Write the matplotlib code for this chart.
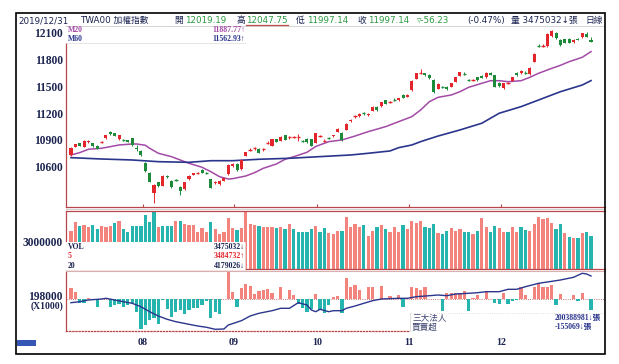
import matplotlib
matplotlib.use("Agg")
import matplotlib.pyplot as plt
from matplotlib.patches import Rectangle
from matplotlib.lines import Line2D

# ====== data (TWA00, 2019-07 .. 2019-12-31) ======
opens = [10731, 10824, 10862, 10824, 10873, 10862, 10832, 10875, 10918, 10985,
         10974, 10907, 10899, 10899, 10918, 10810, 10776, 10645, 10533, 10309,
         10426, 10387, 10500, 10440, 10451, 10376, 10350, 10459, 10510, 10531,
         10563, 10535, 10459, 10418, 10406, 10443, 10515, 10608, 10630, 10573,
         10723, 10784, 10803, 10798, 10792, 10865, 10832, 10907, 10891, 10951,
         10927, 10927, 10930, 10888, 10913, 10907, 10869, 10943, 10888, 10918,
         10940, 10992, 10980, 11011, 11108, 11165, 11167, 11198, 11175, 11227,
         11271, 11279, 11343, 11322, 11350, 11346, 11402, 11383, 11458, 11585,
         11652, 11645, 11629, 11570, 11473, 11490, 11495, 11495, 11548, 11618,
         11645, 11570, 11568, 11600, 11618, 11600, 11650, 11623, 11540, 11477,
         11535, 11562, 11652, 11645, 11650, 11637, 11775, 11952, 11950, 11950,
         12062, 12100, 12018, 12026, 12032, 11995, 12032, 12048, 12080, 12019.19]
highs = [10815, 10858, 10870, 10895, 10900, 10868, 10838, 10892, 10958, 10996,
         10982, 10958, 10906, 10904, 10925, 10843, 10782, 10655, 10540, 10402,
         10432, 10503, 10510, 10447, 10460, 10382, 10432, 10503, 10532, 10545,
         10570, 10542, 10466, 10438, 10449, 10476, 10625, 10638, 10637, 10681,
         10768, 10805, 10825, 10805, 10810, 10885, 10913, 10914, 10942, 10958,
         10945, 10945, 10970, 10900, 10920, 10914, 10980, 10960, 10905, 10930,
         10958, 11028, 10987, 11084, 11130, 11180, 11196, 11215, 11196, 11277,
         11278, 11327, 11350, 11340, 11370, 11371, 11409, 11408, 11568, 11651,
         11690, 11652, 11636, 11577, 11531, 11500, 11502, 11539, 11606, 11662,
         11660, 11585, 11585, 11607, 11625, 11658, 11656, 11630, 11547, 11539,
         11550, 11606, 11659, 11680, 11665, 11714, 11867, 11975, 11968, 12091,
         12128, 12110, 12025, 12033, 12039, 12024, 12039, 12099, 12110, 12047.75]
lows = [10722, 10818, 10830, 10818, 10866, 10825, 10795, 10868, 10912, 10960,
        10938, 10900, 10890, 10874, 10830, 10770, 10725, 10545, 10425, 10196,
        10378, 10380, 10475, 10362, 10440, 10283, 10343, 10452, 10504, 10522,
        10527, 10520, 10358, 10410, 10400, 10437, 10508, 10600, 10556, 10566,
        10716, 10770, 10790, 10750, 10780, 10850, 10826, 10874, 10885, 10893,
        10915, 10918, 10890, 10875, 10870, 10828, 10862, 10935, 10880, 10905,
        10934, 10986, 10892, 11005, 11102, 11150, 11160, 11180, 11170, 11221,
        11228, 11273, 11296, 11310, 11335, 11340, 11366, 11377, 11452, 11579,
        11640, 11617, 11583, 11420, 11467, 11478, 11460, 11489, 11542, 11612,
        11630, 11555, 11560, 11564, 11590, 11594, 11624, 11490, 11497, 11471,
        11525, 11556, 11617, 11639, 11635, 11631, 11769, 11940, 11940, 11944,
        12056, 12030, 11955, 11982, 11982, 11989, 12012, 12042, 12046, 11997.14]
closes = [10806, 10851, 10835, 10888, 10891, 10832, 10801, 10880, 10951, 10966,
          10944, 10951, 10896, 10880, 10843, 10800, 10731, 10552, 10432, 10395,
          10384, 10496, 10481, 10369, 10449, 10331, 10425, 10496, 10526, 10535,
          10533, 10528, 10365, 10432, 10443, 10470, 10619, 10630, 10563, 10675,
          10761, 10787, 10806, 10757, 10795, 10870, 10907, 10880, 10936, 10899,
          10929, 10931, 10935, 10885, 10876, 10835, 10974, 10948, 10892, 10915,
          10951, 11022, 10899, 11078, 11123, 11167, 11190, 11195, 11190, 11271,
          11234, 11321, 11302, 11324, 11348, 11365, 11372, 11402, 11562, 11645,
          11655, 11623, 11589, 11436, 11525, 11487, 11466, 11533, 11600, 11656,
          11640, 11566, 11572, 11570, 11596, 11652, 11630, 11496, 11503, 11533,
          11539, 11600, 11623, 11674, 11645, 11708, 11861, 11950, 11955, 12085,
          12122, 12037, 11962, 11988, 11988, 12018, 12018, 12093, 12053.37, 11997.14]

ma20_idx = [0, 2, 4, 7, 9, 11, 14, 15, 17, 18, 20, 23, 25, 27, 30, 32, 34, 36, 37, 40,
            42, 44, 47, 49, 51, 54, 56, 59, 62, 65, 68, 72, 75, 78, 80, 82, 84, 87, 89, 91,
            94, 96, 98, 100, 103, 105, 107, 110, 112, 114, 117, 119]
ma20_val = [10731, 10757, 10795, 10806, 10824, 10843, 10854, 10854, 10840, 10806,
            10750, 10712, 10675, 10638, 10593, 10544, 10488, 10462, 10466, 10496,
            10533, 10582, 10630, 10683, 10712, 10761, 10826, 10880, 10899, 10943,
            10992, 11048, 11104, 11160, 11234, 11327, 11376, 11402, 11439, 11488,
            11533, 11562, 11562, 11551, 11562, 11600, 11645, 11700, 11734, 11775,
            11824, 11887.77]
ma60_idx = [0, 7, 14, 20, 27, 32, 37, 43, 50, 56, 64, 68, 73, 75, 78, 80, 84, 89, 94,
            98, 103, 107, 112, 117, 119]
ma60_val = [10701, 10686, 10675, 10656, 10649, 10667, 10667, 10683, 10694, 10710,
            10731, 10750, 10776, 10813, 10843, 10880, 10943, 11011, 11086, 11198,
            11272, 11346, 11439, 11514, 11562.93]

volumes = [3916000, 4666000, 4333000, 4391000, 4250000, 4391000, 4058000, 4308000, 4250000, 4333000,
           4533000, 4724000, 4033000, 3808000, 4308000, 4308000, 4308000, 5224000, 4616000, 5474000,
           4250000, 4308000, 4308000, 4308000, 4724000, 4749000, 4449000, 4391000, 4391000, 3833000,
           4116000, 3833000, 4616000, 4033000, 3616000, 3808000, 4949000, 4166000, 3975000, 4166000,
           5499000, 4474000, 4391000, 4308000, 4200000, 4200000, 4200000, 4116000, 4224000, 4033000,
           4474000, 4033000, 3833000, 3833000, 3833000, 4033000, 4308000, 3833000, 4116000, 3700000,
           3616000, 3916000, 3916000, 5033000, 4250000, 4474000, 4250000, 4391000, 3475000, 3916000,
           4200000, 4391000, 4033000, 3783000, 4200000, 3783000, 4391000, 4033000, 4724000, 4583000,
           4724000, 4250000, 4116000, 4449000, 3750000, 3616000, 3891000, 4116000, 3916000, 4033000,
           3833000, 3833000, 3641000, 3891000, 4949000, 4200000, 3833000, 4308000, 4116000, 3783000,
           3783000, 4200000, 3783000, 4200000, 3975000, 3916000, 4474000, 5083000, 4891000, 5000000,
           4533000, 4033000, 4474000, 3750000, 3367000, 3283000, 3283000, 3700000, 3783000, 3475032]
# s = red (up) bar, t = teal (down) bar
vol_dir = "".join(["sstssttsss", "tstttttttt", "stttstssss", "sstsssssts",
                   "ssstssstst", "stttttstts", "sstsssstss", "tstssstsss",
                   "stttsttsss", "ttstssttss", "tssttsssss", "sttstststt"])

inst_net = [151000, 94000, -52000, -52000, 14000, -14000, -117000, 7000, 14000, -109000,
            -85000, -71000, -109000, -85000, -61000, -179000, -427000, -367000, -296000, -272000,
            -353000, -14000, -145000, -250000, -179000, -155000, -212000, -155000, -131000, -131000,
            -85000, -28000, -272000, -179000, -212000, -7000, 385000, 103000, -109000, 151000,
            212000, 188000, 71000, 117000, 127000, 137000, 80000, 7000, 165000, -7000,
            127000, 56000, -71000, -131000, -188000, -145000, 66000, -155000, -202000, -85000,
            32000, 47000, -202000, 300000, 165000, 197000, 127000, 5000, 173000, 173000,
            5000, 183000, 5000, 42000, 5000, 56000, -117000, 5000, 173000, 151000,
            127000, 165000, 7000, 4000, 3000, -165000, 80000, 80000, 89000, 89000,
            117000, -165000, 10000, 56000, 3000, 117000, 3000, -61000, -71000, 89000,
            -71000, -24000, -14000, 165000, 56000, 3000, 165000, 230000, 165000, 173000,
            197000, -85000, 71000, 3000, 4000, 56000, -24000, 80000, 3000, -155069]

cum_idx = [0, 2, 4, 7, 8, 10, 12, 14, 16, 18, 20, 22, 24, 27, 29, 31, 33, 35, 36, 39,
           41, 43, 46, 48, 50, 52, 54, 55, 56, 57, 59, 60, 62, 63, 65, 67, 69, 71, 75, 77,
           79, 82, 84, 86, 88, 91, 93, 95, 98, 100, 102, 104, 107, 109, 112, 115, 117, 118, 119]
cum_val = [197615000, 197719000, 197896000, 198000000, 198073000, 197896000, 197719000, 197553000, 197199000, 196679000,
           196232000, 195889000, 195639000, 195369000, 195192000, 195057000, 194849000, 194880000, 195296000, 195743000,
           196232000, 196513000, 196783000, 197033000, 197033000, 197615000, 197376000, 196856000, 196679000, 196929000,
           196679000, 196783000, 196783000, 197033000, 197272000, 197553000, 197823000, 198000000, 198073000, 198073000,
           198239000, 198343000, 198416000, 198343000, 198520000, 198593000, 198655000, 198759000, 198759000, 199009000,
           199009000, 199279000, 199633000, 199768000, 199976000, 200257000, 200673000, 200600000, 200388981]

month_pos = [16.5, 37.2, 56.4, 77.4, 98.4]
month_labels = ["08", "09", "10", "11", "12"]
price_ticks = [10600, 10900, 11200, 11500, 11800, 12100]

# ====== style ======
RED = "#e3262c"
GREEN = "#1d8a3a"
SALMON = "#f2847d"
TEAL = "#26b4af"
MA20_C = "#a34aa6"
MA60_C = "#2b358c"
SPINE = "#b9474a"
NAVY = "#1c2450"
NUMGREEN = "#2a9a40"
SERIF = ["Liberation Serif", "DejaVu Serif"]
SANS = ["DejaVu Sans", "Noto Sans CJK TC"]
SERIF_CJK = ["Liberation Serif", "Noto Sans CJK TC"]

W, H = 619, 364
XMIN, XMAX = -1.14, 122.2


def box(x0, y0, x1, y1):
    return [x0 / W, 1 - y1 / H, (x1 - x0) / W, (y1 - y0) / H]


def ftext(x, y, s, **kw):
    kw.setdefault("va", "center")
    fig.text(x / W, 1 - y / H, s, **kw)


def frect(x0, y0, x1, y1, **kw):
    fig.add_artist(Rectangle((x0 / W, 1 - y1 / H), (x1 - x0) / W, (y1 - y0) / H,
                             transform=fig.transFigure, **kw))


def fline(xs, ys, **kw):
    fig.add_artist(Line2D([x / W for x in xs], [1 - y / H for y in ys],
                          transform=fig.transFigure, **kw))


def style_axes(ax):
    ax.set_xlim(XMIN, XMAX)
    for s in ax.spines.values():
        s.set_color(SPINE)
        s.set_linewidth(0.9)
    ax.spines["top"].set_visible(False)
    ax.spines["right"].set_visible(False)
    ax.tick_params(axis="y", length=0, pad=2.2, labelsize=8.3, labelcolor=NAVY)
    for lab in ax.get_yticklabels():
        lab.set_fontfamily(SERIF)
        lab.set_fontweight("bold")


fig = plt.figure(figsize=(W / 100, H / 100), dpi=100)

# ---- price panel ----
ax_p = fig.add_axes(box(66, 26, 605, 207))
n = len(closes)
for i in range(n):
    o, h, l, c = opens[i], highs[i], lows[i], closes[i]
    col = RED if c >= o else GREEN
    ax_p.vlines(i, l, h, color=col, lw=0.7, zorder=3)
    lo, hi = min(o, c), max(o, c)
    if hi - lo < 8:
        ax_p.hlines((o + c) / 2, i - 0.38, i + 0.38, color=col, lw=1.0, zorder=3)
    else:
        ax_p.bar(i, hi - lo, bottom=lo, width=0.7, color=col, lw=0, zorder=3)
ax_p.plot(ma20_idx, ma20_val, color=MA20_C, lw=1.1, zorder=2)
ax_p.plot(ma60_idx, ma60_val, color=MA60_C, lw=1.2, zorder=2)
ax_p.set_ylim(10149, 12174)
ax_p.set_yticks(price_ticks)
ax_p.set_xticks(month_pos)
ax_p.set_xticklabels([])
style_axes(ax_p)
ax_p.tick_params(axis="x", direction="in", length=2.5, color=SPINE, width=0.8)

# ---- volume panel ----
ax_v = fig.add_axes(box(66, 211, 605, 269))
vcols = [SALMON if d == "s" else TEAL for d in vol_dir]
ax_v.bar(range(n), volumes, width=0.74, color=vcols, lw=0)
ax_v.set_ylim(726000, 5557000)
ax_v.set_yticks([3000000])
ax_v.set_yticklabels(["3000000"])
ax_v.set_xticks([])
style_axes(ax_v)
ax_v.spines["top"].set_visible(True)

# ---- institutional panel ----
ax_i = fig.add_axes(box(66, 272, 605, 331))
icols = [SALMON if v >= 0 else TEAL for v in inst_net]
ax_i.axhline(0, color=SPINE, lw=0.6, ls=":", zorder=0)
ax_i.bar(range(n), inst_net, width=0.74, color=icols, lw=0, zorder=2)
ax_i.set_ylim(-451200, 380700)
ax_i.set_yticks([])
ax_i.set_xticks(month_pos)
ax_i.set_xticklabels(month_labels)
style_axes(ax_i)
ax_i.spines["bottom"].set_linestyle((0, (1, 1.5)))
ax_i.tick_params(axis="x", length=0, pad=5, labelsize=7.2, labelcolor=NAVY)
for lab in ax_i.get_xticklabels():
    lab.set_fontfamily(SERIF)
    lab.set_fontweight("bold")

ax_c = ax_i.twinx()
ax_c.plot(cum_idx, cum_val, color=MA60_C, lw=1.0)
ax_c.set_ylim(194672000, 200808000)
ax_c.set_xlim(XMIN, XMAX)
ax_c.set_yticks([])
for s in ax_c.spines.values():
    s.set_visible(False)

# left label of the institutional panel (tick value of the cumulative line)
ftext(63, 296.8, "198000", ha="right", fontsize=8.3, fontweight="bold",
      family=SERIF, color=NAVY)
ftext(63, 306.3, "(X1000)", ha="right", fontsize=6.9, fontweight="bold",
      family=SERIF, color=NAVY)

# ---- overlays, legends ----
fline([66, 605], [26, 26], color="#d4d4d4", lw=0.7)
frect(64, 26.5, 245, 43, facecolor="white", edgecolor="none", zorder=2)
fline([66, 245], [43, 43], color="#e0e0e0", lw=0.6, zorder=3)
fline([66, 605], [209.3, 209.3], color="#cfcfcf", lw=0.7)
fline([66, 605], [270.5, 270.5], color="#d8b0b0", lw=0.8)

frect(64, 242, 245, 269.5, facecolor="white", edgecolor="none", zorder=2)
fline([245, 245], [242, 269], color="#e0e0e0", lw=0.6, zorder=3)
frect(410, 313, 606, 333, facecolor="white", edgecolor="none", zorder=2)
fline([410, 605], [313, 313], color="#d8d8d8", lw=0.6, ls=":", zorder=3)
fline([410, 410], [313, 331], color="#d8d8d8", lw=0.6, zorder=3)

lkw = dict(fontsize=5.6, fontweight="bold", family=SERIF, zorder=4)
ftext(68, 30, "M20", color=MA20_C, **lkw)
ftext(245, 30, "11887.77\u2191", color=MA20_C, ha="right", **lkw)
ftext(68, 39, "M60", color=MA60_C, **lkw)
ftext(245, 39, "11562.93\u2191", color=MA60_C, ha="right", **lkw)

ftext(68, 247.3, "VOL", color=NAVY, **lkw)
ftext(245, 247.3, "3475032\u2193", color=NAVY, ha="right", **lkw)
ftext(68, 256.5, "5", color=RED, **lkw)
ftext(245, 256.5, "3484732\u2191", color=RED, ha="right", **lkw)
ftext(68, 265.5, "20", color=NAVY, **lkw)
ftext(245, 265.5, "4179026\u2193", color=NAVY, ha="right", **lkw)

ckw = dict(fontsize=6.2, family=["Noto Sans CJK TC"], color="#3b4270", zorder=4)
ftext(412, 317.5, "三大法人", **ckw)
ftext(412, 327.3, "買賣超", **ckw)
vkw = dict(fontsize=5.6, fontweight="bold", family=SERIF_CJK, color="#2b358c", zorder=4)
ftext(555, 317.5, "200388981\u2193張", **vkw)
ftext(555, 327.3, "-155069\u2193張", **vkw)

# ---- header ----
hkw = dict(fontsize=6.3, family=SANS, zorder=4)
ftext(18, 20.5, "2019/12/31", color=NAVY, **hkw)
ftext(80, 20.5, "TWA00 加權指數", color=NAVY, **hkw)
ftext(174, 20.5, "開", color=NAVY, **hkw)
ftext(185, 20.5, "12019.19", color=NUMGREEN, **hkw)
ftext(236, 20.5, "高", color=NAVY, **hkw)
ftext(246, 20.5, "12047.75", color=NUMGREEN, **hkw)
fline([246, 288], [25, 25], color="#c0504d", lw=0.9)
ftext(296, 20.5, "低", color=NAVY, **hkw)
ftext(307, 20.5, "11997.14", color=NUMGREEN, **hkw)
ftext(357, 20.5, "收", color=NAVY, **hkw)
ftext(368, 20.5, "11997.14", color=NUMGREEN, **hkw)
ftext(417, 20.5, "\u25bf-56.23", color=NUMGREEN, **hkw)
ftext(467, 20.5, "(-0.47%)", color=NAVY, **hkw)
ftext(511, 20.5, "量 3475032\u2193張", color=NAVY, **hkw)
ftext(585, 20.5, "日線", color=NAVY, **hkw)

# small logo and outer frame
frect(17, 340, 36, 345.5, facecolor="#3556b5", edgecolor="none")
frect(16, 13, 605, 354, facecolor="none", edgecolor="black", lw=1.2, zorder=5)

fig.savefig("out.png", dpi=100)
